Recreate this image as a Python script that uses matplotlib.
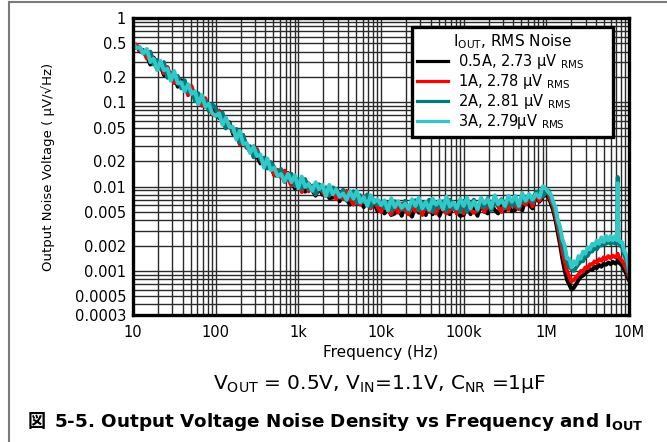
import matplotlib.pyplot as plt
from matplotlib.lines import Line2D

plt.rcParams['font.family'] = ['DejaVu Sans']
plt.rcParams['mathtext.fontset'] = 'dejavusans'

# sample frequencies: 24 points per decade from 10 Hz to 1 MHz, finer grid in the last decade
mantissa = [1.00, 1.10, 1.21, 1.33, 1.47, 1.62, 1.78, 1.96, 2.15, 2.37, 2.61, 2.87,
            3.16, 3.48, 3.83, 4.22, 4.64, 5.11, 5.62, 6.19, 6.81, 7.50, 8.25, 9.09]
decades = [10, 100, 1e3, 1e4, 1e5]
top_mantissa = [1.00, 1.07, 1.14, 1.21, 1.29, 1.37, 1.47, 1.56, 1.67, 1.78, 1.90, 2.02, 2.15,
                2.30, 2.45, 2.61, 2.78, 2.96, 3.16, 3.37, 3.59, 3.83, 4.08, 4.35, 4.64, 4.95,
                5.27, 5.62, 5.99, 6.38, 6.81, 7.15, 7.30, 7.45, 7.80, 8.25, 8.80, 9.40, 10.0]
freq = [m * d for d in decades for m in mantissa] + [m * 1e6 for m in top_mantissa]

# output noise density in uV/rtHz
noise_05a = [0.48, 0.47, 0.40, 0.415, 0.35, 0.28, 0.34, 0.27, 0.27, 0.21, 0.26, 0.19, 0.20, 0.153, 0.183, 0.146, 0.127, 0.150, 0.118, 0.097, 0.112, 0.088, 0.092, 0.072,
             0.086, 0.065, 0.064, 0.050, 0.058, 0.042, 0.044, 0.032, 0.038, 0.030, 0.026, 0.030, 0.023, 0.0188, 0.0217, 0.0169, 0.0174, 0.0137, 0.0134, 0.0148, 0.0114, 0.0145, 0.0115, 0.0095,
             0.0113, 0.0095, 0.0087, 0.0109, 0.0090, 0.0078, 0.0097, 0.0080, 0.0088, 0.0073, 0.0074, 0.0084, 0.0067, 0.0087, 0.0071, 0.0061, 0.0079, 0.0064, 0.0068, 0.0057, 0.0072, 0.0057, 0.0064, 0.0051,
             0.0057, 0.0048, 0.0054, 0.0046, 0.0048, 0.0056, 0.0045, 0.0060, 0.0050, 0.0044, 0.0058, 0.0049, 0.0053, 0.0046, 0.0059, 0.0047, 0.0055, 0.0045, 0.0058, 0.0050, 0.0047, 0.0060, 0.0051, 0.0045,
             0.0046, 0.0059, 0.0047, 0.0056, 0.0045, 0.0059, 0.0051, 0.0048, 0.0062, 0.0053, 0.0048, 0.0060, 0.0052, 0.0059, 0.0051, 0.0053, 0.0063, 0.0052, 0.0071, 0.0061, 0.0055, 0.0076, 0.0066, 0.0076,
             0.0080, 0.0074, 0.0062, 0.0052, 0.0040, 0.0029, 0.0020, 0.0014, 0.0010, 0.00078, 0.00068, 0.00060, 0.00063, 0.00070, 0.00078, 0.00085, 0.00088, 0.00095, 0.00098, 0.00105,
             0.00102, 0.00112, 0.00108, 0.00118, 0.00112, 0.00122, 0.00118, 0.00126, 0.00120, 0.00128, 0.00122, 0.00128, 0.00135, 0.00126, 0.00122, 0.00115, 0.00102, 0.00090, 0.00078]
noise_1a = [0.485, 0.485, 0.41, 0.41, 0.33, 0.39, 0.31, 0.245, 0.30, 0.22, 0.26, 0.20, 0.169, 0.197, 0.156, 0.174, 0.121, 0.156, 0.111, 0.117, 0.091, 0.112, 0.086, 0.073,
            0.069, 0.080, 0.061, 0.050, 0.056, 0.044, 0.048, 0.032, 0.041, 0.029, 0.030, 0.023, 0.028, 0.0212, 0.0179, 0.0175, 0.0193, 0.0137, 0.0158, 0.0128, 0.0155, 0.0124, 0.0103, 0.0128,
            0.0119, 0.0086, 0.0118, 0.0088, 0.0099, 0.0081, 0.0106, 0.0086, 0.0077, 0.0080, 0.0095, 0.0071, 0.0085, 0.0071, 0.0089, 0.0073, 0.0061, 0.0079, 0.0061, 0.0077, 0.0063, 0.0055, 0.0068, 0.0057,
            0.0050, 0.0064, 0.0054, 0.0047, 0.0061, 0.0049, 0.0063, 0.0052, 0.0047, 0.0059, 0.0051, 0.0062, 0.0046, 0.0064, 0.0050, 0.0057, 0.0048, 0.0063, 0.0053, 0.0048, 0.0052, 0.0062, 0.0048, 0.0058,
            0.0048, 0.0064, 0.0053, 0.0049, 0.0052, 0.0063, 0.0050, 0.0061, 0.0053, 0.0067, 0.0058, 0.0050, 0.0066, 0.0053, 0.0069, 0.0058, 0.0054, 0.0068, 0.0061, 0.0075, 0.0058, 0.0084, 0.0068, 0.0082,
            0.0085, 0.0080, 0.0068, 0.0058, 0.0045, 0.0034, 0.0024, 0.0017, 0.0013, 0.0010, 0.00085, 0.00075, 0.00078, 0.00085, 0.00090, 0.00100, 0.00098, 0.00110, 0.00108, 0.00120,
            0.00118, 0.00130, 0.00125, 0.00138, 0.00132, 0.00145, 0.00138, 0.00150, 0.00142, 0.00152, 0.00145, 0.00150, 0.00160, 0.00148, 0.00140, 0.00132, 0.00118, 0.00102, 0.00085]
noise_2a = [0.515, 0.44, 0.45, 0.38, 0.37, 0.40, 0.28, 0.32, 0.25, 0.30, 0.195, 0.225, 0.188, 0.206, 0.146, 0.183, 0.132, 0.138, 0.103, 0.128, 0.100, 0.106, 0.079, 0.095,
            0.086, 0.066, 0.076, 0.049, 0.055, 0.045, 0.048, 0.0335, 0.041, 0.029, 0.030, 0.0223, 0.027, 0.021, 0.0221, 0.0164, 0.0195, 0.0170, 0.0134, 0.0162, 0.0115, 0.0130, 0.0142, 0.0101,
            0.0123, 0.0093, 0.0123, 0.0093, 0.0103, 0.0081, 0.0106, 0.0088, 0.0098, 0.0078, 0.0098, 0.0091, 0.0074, 0.0092, 0.0068, 0.0078, 0.0088, 0.0064, 0.0079, 0.0065, 0.0081, 0.0057, 0.0069, 0.0061,
            0.0066, 0.0056, 0.0064, 0.0052, 0.0067, 0.0064, 0.0053, 0.0068, 0.0051, 0.0060, 0.0069, 0.0052, 0.0065, 0.0055, 0.0070, 0.0050, 0.0063, 0.0057, 0.0067, 0.0051, 0.0070, 0.0054, 0.0061, 0.0050,
            0.0068, 0.0050, 0.0060, 0.0070, 0.0052, 0.0066, 0.0056, 0.0073, 0.0052, 0.0066, 0.0060, 0.0071, 0.0055, 0.0075, 0.0059, 0.0068, 0.0056, 0.0076, 0.0066, 0.0078, 0.0065, 0.0087, 0.0087, 0.0076,
            0.0088, 0.0090, 0.0074, 0.0063, 0.0050, 0.0039, 0.0028, 0.0021, 0.0016, 0.0013, 0.0011, 0.00105, 0.0010, 0.0011, 0.0012, 0.0013, 0.0013, 0.0015, 0.0015, 0.0017,
            0.0017, 0.0019, 0.0018, 0.0020, 0.0020, 0.0021, 0.0021, 0.0022, 0.0021, 0.0022, 0.0021, 0.0022, 0.0130, 0.0022, 0.0020, 0.0019, 0.0015, 0.0013, 0.0009]
noise_3a = [0.50, 0.44, 0.45, 0.38, 0.43, 0.30, 0.33, 0.24, 0.31, 0.24, 0.25, 0.18, 0.235, 0.167, 0.173, 0.135, 0.164, 0.126, 0.135, 0.095, 0.122, 0.088, 0.096, 0.074,
            0.069, 0.074, 0.054, 0.066, 0.051, 0.051, 0.036, 0.046, 0.032, 0.033, 0.025, 0.030, 0.023, 0.024, 0.0168, 0.0216, 0.0156, 0.0168, 0.0133, 0.0141, 0.0115, 0.0142, 0.0113, 0.0136,
            0.0096, 0.0132, 0.0099, 0.0108, 0.0089, 0.0113, 0.0093, 0.0105, 0.0077, 0.0105, 0.0081, 0.0093, 0.0076, 0.0083, 0.0070, 0.0088, 0.0072, 0.0089, 0.0065, 0.0075, 0.0059, 0.0079, 0.0065, 0.0071,
            0.0060, 0.0069, 0.0052, 0.0073, 0.0057, 0.0067, 0.0056, 0.0063, 0.0054, 0.0071, 0.0059, 0.0074, 0.0055, 0.0066, 0.0053, 0.0072, 0.0061, 0.0069, 0.0054, 0.0076, 0.0058, 0.0065, 0.0055, 0.0072,
            0.0059, 0.0074, 0.0055, 0.0067, 0.0054, 0.0074, 0.0063, 0.0071, 0.0056, 0.0079, 0.0062, 0.0069, 0.0059, 0.0078, 0.0066, 0.0078, 0.0059, 0.0084, 0.0068, 0.0082, 0.0070, 0.0082, 0.0074, 0.0101,
            0.0093, 0.0085, 0.0080, 0.0066, 0.0057, 0.0041, 0.0033, 0.0024, 0.0020, 0.0014, 0.0014, 0.0011, 0.0013, 0.0012, 0.0015, 0.0014, 0.0017, 0.0016, 0.0019, 0.0018,
            0.0021, 0.0020, 0.0023, 0.0021, 0.0025, 0.0022, 0.0026, 0.0023, 0.0026, 0.0023, 0.0026, 0.0023, 0.0110, 0.0025, 0.0022, 0.0022, 0.0017, 0.0015, 0.0010]

series = [noise_05a, noise_1a, noise_2a, noise_3a]
labels = ['0.5A, 2.73 µV $_{\\mathrm{RMS}}$', '1A, 2.78 µV $_{\\mathrm{RMS}}$',
          '2A, 2.81 µV $_{\\mathrm{RMS}}$', '3A, 2.79µV $_{\\mathrm{RMS}}$']
colors = ['#000000', '#ff0000', '#007b7b', '#33c8c8']

yticks = [0.0003, 0.0005, 0.001, 0.002, 0.005, 0.01, 0.02, 0.05, 0.1, 0.2, 0.5, 1]
ytick_labels = ['0.0003', '0.0005', '0.001', '0.002', '0.005', '0.01', '0.02', '0.05', '0.1', '0.2', '0.5', '1']
xticks = [10, 100, 1e3, 1e4, 1e5, 1e6, 1e7]
xtick_labels = ['10', '100', '1k', '10k', '100k', '1M', '10M']

fig = plt.figure(figsize=(6.67, 4.42), dpi=100)
ax = fig.add_axes([133 / 667, 1 - 315 / 442, 496 / 667, 297 / 442])

for vals, lab, col in zip(series, labels, colors):
    ax.plot(freq, vals, color=col, lw=2.8, label=lab)

ax.set_xscale('log')
ax.set_yscale('log')
ax.set_xlim(10, 1e7)
ax.set_ylim(0.0003, 1)
ax.set_xticks(xticks)
ax.set_xticklabels(xtick_labels)
ax.set_yticks(yticks)
ax.set_yticklabels(ytick_labels)
ax.minorticks_on()
ax.yaxis.set_minor_formatter(plt.NullFormatter())
ax.xaxis.set_minor_formatter(plt.NullFormatter())
ax.tick_params(which='both', length=0, labelsize=10.5)
ax.tick_params(axis='y', pad=5)
ax.tick_params(axis='x', pad=7)
ax.grid(True, which='both', color='#2a2a2a', lw=1.0)
ax.set_axisbelow(True)
for sp in ax.spines.values():
    sp.set_linewidth(2.4)

leg = ax.legend(loc='upper left', bbox_to_anchor=(0.5625, 0.5, 0.4052, 0.4697), mode='expand',
                fontsize=10.5, title='I$_{\\mathrm{OUT}}$, RMS Noise', title_fontsize=11,
                fancybox=False, framealpha=1, edgecolor='black',
                handlelength=2.1, handletextpad=0.7, labelspacing=0.08,
                borderpad=0.35, borderaxespad=0)
leg.get_frame().set_linewidth(2.4)
for h in leg.legend_handles:
    h.set_linewidth(2.3)

fig.text(48 / 667, 1 - 167 / 442, 'Output Noise Voltage ( µV/\u221aHz)', rotation=90,
         ha='center', va='center', fontsize=9.5)
fig.text(381 / 667, 1 - 353 / 442, 'Frequency (Hz)', ha='center', va='center', fontsize=11)
fig.text(380 / 667, 1 - 384 / 442,
         'V$_{\\mathrm{OUT}}$ = 0.5V, V$_{\\mathrm{IN}}$=1.1V, C$_{\\mathrm{NR}}$ =1µF',
         ha='center', va='center', fontsize=14.5)

# figure caption: the CJK glyph needs its own font, the rest follows it
cap_y = 1 - 427 / 442
t_zu = fig.text(28 / 667, cap_y, '図', fontsize=13, fontweight='bold',
                family=['Noto Sans CJK JP', 'DejaVu Sans'], va='baseline')
fig.canvas.draw()
bb = t_zu.get_window_extent()
fig.text((bb.x1 + 8) / 667, cap_y,
         '5-5. Output Voltage Noise Density vs Frequency and I$_{\\mathbf{OUT}}$',
         fontsize=13.2, fontweight='bold', va='baseline')

# page frame
fig.add_artist(Line2D([8.5 / 667, 8.5 / 667], [0, 1 - 2 / 442], color='#7a7a7a', lw=1.5))
fig.add_artist(Line2D([8.5 / 667, 1], [1 - 2 / 442, 1 - 2 / 442], color='#7a7a7a', lw=1.5))

fig.savefig('out.png', dpi=100)
